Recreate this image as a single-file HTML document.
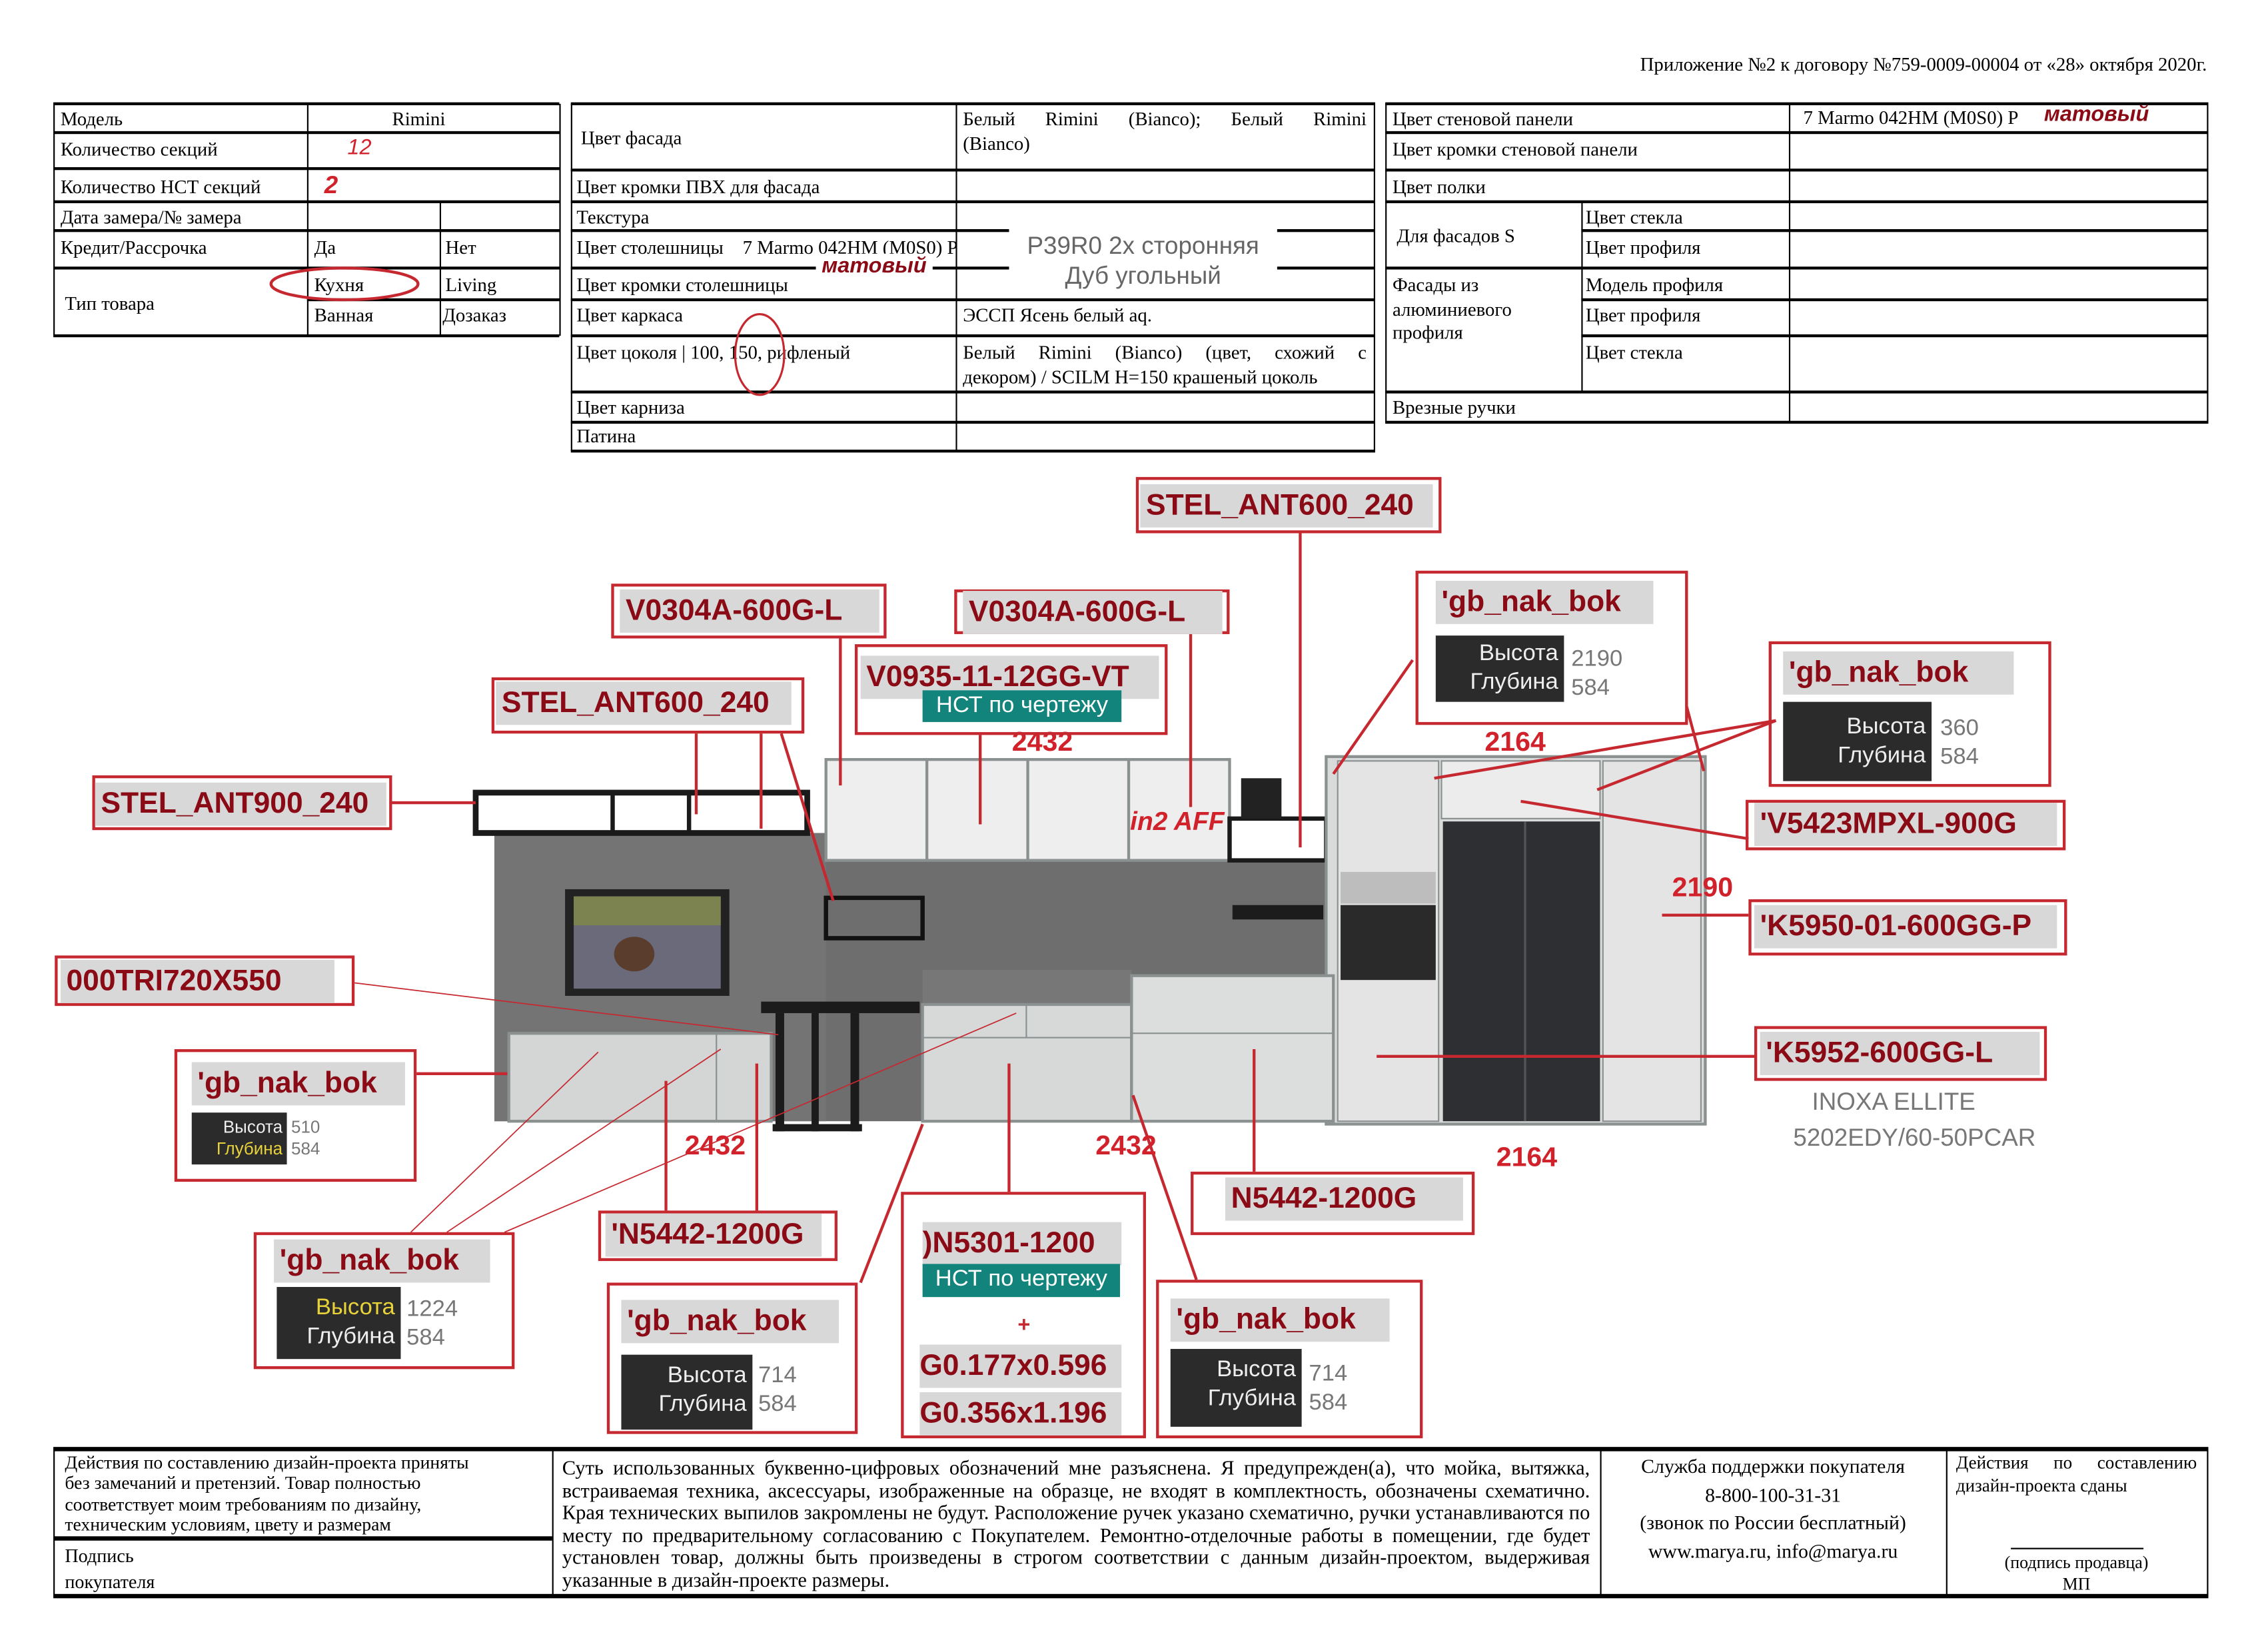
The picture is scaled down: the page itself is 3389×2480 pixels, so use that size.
<!DOCTYPE html>
<html><head><meta charset="utf-8"><style>
*{margin:0;padding:0;box-sizing:border-box}
body{width:3389px;height:2480px;background:#fff;overflow:hidden;position:relative}
#c{position:absolute;left:0;top:0;width:1559px;height:1141px;transform:scale(2.1635);transform-origin:0 0;font-family:"Liberation Serif",serif;color:#000}
.a{position:absolute;white-space:nowrap}
.h{position:absolute;height:2px;background:#000}
.v{position:absolute;width:1px;background:#000}
.t{position:absolute;font-size:13.3px;line-height:15px;white-space:nowrap}
.rb{position:absolute;border:2px solid #c62830}
.lb{position:absolute;background:#d8d8d8;color:#8a0b16;font-family:"Liberation Sans",sans-serif;font-weight:bold;font-size:20.5px;line-height:30px;padding-left:4px;white-space:nowrap}
.dk{position:absolute;background:#2b2b2b;color:#eee;font-family:"Liberation Sans",sans-serif;font-size:16px;line-height:20px;text-align:right;padding:3px 4px}
.vals{position:absolute;font-family:"Liberation Sans",sans-serif;font-size:16px;line-height:20px;color:#777}
.teal{position:absolute;background:#12847c;color:#fff;font-family:"Liberation Sans",sans-serif;font-size:16px;line-height:22px;text-align:center}
.num{position:absolute;color:#d1222b;font-family:"Liberation Sans",sans-serif;font-weight:bold;font-size:19px}
.bt{position:absolute;font-size:12.5px;line-height:15.5px}
</style></head><body><div id="c">

<div class="t" style="right:28px;top:37px">Приложение №2 к договору №759-0009-00004 от «28» октября 2020г.</div>

<div class="h" style="left:37px;width:351px;top:71px"></div>
<div class="h" style="left:37px;width:351px;top:91px"></div>
<div class="h" style="left:37px;width:351px;top:116px"></div>
<div class="h" style="left:37px;width:351px;top:139px"></div>
<div class="h" style="left:37px;width:351px;top:159px"></div>
<div class="h" style="left:37px;width:351px;top:185px"></div>
<div class="h" style="left:213px;width:175px;top:207px"></div>
<div class="h" style="left:37px;width:351px;top:232px"></div>
<div class="v" style="left:37px;top:72px;height:161px"></div>
<div class="v" style="left:213px;top:72px;height:161px"></div>
<div class="v" style="left:305px;top:140px;height:93px"></div>
<div class="v" style="left:388px;top:72px;height:161px"></div>
<div class="t" style="left:42px;top:75px">Модель</div>
<div class="t" style="left:213px;width:155px;text-align:center;top:75px">Rimini</div>
<div class="t" style="left:42px;top:96px">Количество секций</div>
<div class="a" style="left:241px;top:94px;color:#d1222b;font-family:'Liberation Sans',sans-serif;font-style:italic;font-size:15px">12</div>
<div class="t" style="left:42px;top:122px">Количество НСТ секций</div>
<div class="a" style="left:225px;top:119px;color:#d1222b;font-family:'Liberation Sans',sans-serif;font-style:italic;font-weight:bold;font-size:17px">2</div>
<div class="t" style="left:42px;top:143px">Дата замера/№ замера</div>
<div class="t" style="left:42px;top:164px">Кредит/Рассрочка</div>
<div class="t" style="left:218px;top:164px">Да</div>
<div class="t" style="left:309px;top:164px">Нет</div>
<div class="t" style="left:45px;top:203px">Тип товара</div>
<div class="t" style="left:218px;top:190px">Кухня</div>
<div class="t" style="left:309px;top:190px">Living</div>
<div class="t" style="left:218px;top:211px">Ванная</div>
<div class="t" style="left:307px;top:211px">Дозаказ</div>

<div class="h" style="left:396px;width:558px;top:71px"></div>
<div class="h" style="left:396px;width:558px;top:117px"></div>
<div class="h" style="left:396px;width:558px;top:139px"></div>
<div class="h" style="left:396px;width:558px;top:159px"></div>
<div class="h" style="left:396px;width:558px;top:185px"></div>
<div class="h" style="left:396px;width:558px;top:207px"></div>
<div class="h" style="left:396px;width:558px;top:232px"></div>
<div class="h" style="left:396px;width:558px;top:271px"></div>
<div class="h" style="left:396px;width:558px;top:292px"></div>
<div class="h" style="left:396px;width:558px;top:312px"></div>
<div class="v" style="left:396px;top:72px;height:241px"></div>
<div class="v" style="left:663px;top:72px;height:241px"></div>
<div class="v" style="left:953px;top:72px;height:241px"></div>
<div class="t" style="left:403px;top:88px">Цвет фасада</div>
<div class="t" style="left:668px;top:75px;width:280px;text-align:justify;text-align-last:justify">Белый Rimini (Bianco); Белый Rimini</div>
<div class="t" style="left:668px;top:92px">(Bianco)</div>
<div class="t" style="left:400px;top:122px">Цвет кромки ПВХ для фасада</div>
<div class="t" style="left:400px;top:143px">Текстура</div>
<div class="t" style="left:400px;top:164px">Цвет столешницы&nbsp;&nbsp;&nbsp;&nbsp;7 Marmo 042HM (M0S0) P</div>
<div class="t" style="left:400px;top:190px">Цвет кромки столешницы</div>
<div class="t" style="left:400px;top:211px">Цвет каркаса</div>
<div class="t" style="left:668px;top:211px">ЭССП Ясень белый aq.</div>
<div class="t" style="left:400px;top:237px">Цвет цоколя | 100, 150, рифленый</div>
<div class="t" style="left:668px;top:237px;width:280px;text-align:justify;text-align-last:justify">Белый Rimini (Bianco) (цвет, схожий с</div>
<div class="t" style="left:668px;top:254px">декором) / SCILM H=150 крашеный цоколь</div>
<div class="t" style="left:400px;top:275px">Цвет карниза</div>
<div class="t" style="left:400px;top:295px">Патина</div>
<div class="a" style="left:700px;top:158px;width:186px;height:48px;background:#fff"></div>
<div class="a" style="left:700px;top:160px;width:186px;text-align:center;font-family:'Liberation Sans',sans-serif;font-size:17px;line-height:21px;color:#666">P39R0 2x сторонняя<br>Дуб угольный</div>
<div class="a" style="left:566px;top:176px;background:#fff;padding:0 4px;color:#8a0b16;font-family:'Liberation Sans',sans-serif;font-style:italic;font-weight:bold;font-size:15px;line-height:17px">матовый</div>

<div class="h" style="left:961px;width:571px;top:71px"></div>
<div class="h" style="left:961px;width:571px;top:91px"></div>
<div class="h" style="left:961px;width:571px;top:117px"></div>
<div class="h" style="left:961px;width:571px;top:139px"></div>
<div class="h" style="left:1097px;width:435px;top:159px"></div>
<div class="h" style="left:961px;width:571px;top:185px"></div>
<div class="h" style="left:1097px;width:435px;top:207px"></div>
<div class="h" style="left:1097px;width:435px;top:232px"></div>
<div class="h" style="left:961px;width:571px;top:271px"></div>
<div class="h" style="left:961px;width:571px;top:292px"></div>
<div class="v" style="left:961px;top:72px;height:221px"></div>
<div class="v" style="left:1097px;top:140px;height:132px"></div>
<div class="v" style="left:1241px;top:72px;height:221px"></div>
<div class="v" style="left:1531px;top:72px;height:221px"></div>
<div class="t" style="left:966px;top:75px">Цвет стеновой панели</div>
<div class="t" style="left:1251px;top:74px">7 Marmo 042HM (M0S0) P</div>
<div class="a" style="left:1418px;top:71px;color:#8a0b16;font-family:'Liberation Sans',sans-serif;font-style:italic;font-weight:bold;font-size:15px">матовый</div>
<div class="t" style="left:966px;top:96px">Цвет кромки стеновой панели</div>
<div class="t" style="left:966px;top:122px">Цвет полки</div>
<div class="t" style="left:969px;top:156px">Для фасадов S</div>
<div class="t" style="left:1100px;top:143px">Цвет стекла</div>
<div class="t" style="left:1100px;top:164px">Цвет профиля</div>
<div class="t" style="left:966px;top:190px;line-height:16.5px">Фасады из<br>алюминиевого<br>профиля</div>
<div class="t" style="left:1100px;top:190px">Модель профиля</div>
<div class="t" style="left:1100px;top:211px">Цвет профиля</div>
<div class="t" style="left:1100px;top:237px">Цвет стекла</div>
<div class="t" style="left:966px;top:275px">Врезные ручки</div>

<svg class="a" style="left:0;top:0" width="1559" height="1141" viewBox="0 0 1559 1141">
<ellipse cx="239" cy="197" rx="51" ry="11" fill="none" stroke="#c62830" stroke-width="2"/>
<ellipse cx="527" cy="246" rx="17" ry="28" fill="none" stroke="#c62830" stroke-width="1.5"/>
<rect x="343" y="578" width="582" height="200" fill="#6e6e6e"/>
<rect x="343" y="578" width="230" height="200" fill="#747474"/>
<rect x="330" y="550" width="230" height="28" fill="none" stroke="#1a1a1a" stroke-width="4"/>
<line x1="425" y1="550" x2="425" y2="578" stroke="#1a1a1a" stroke-width="3"/>
<line x1="478" y1="550" x2="478" y2="578" stroke="#1a1a1a" stroke-width="3"/>
<rect x="573" y="527" width="280" height="70" fill="#eeeeee" stroke="#8a9190" stroke-width="2"/>
<line x1="643" y1="527" x2="643" y2="597" stroke="#8a9190" stroke-width="2"/>
<line x1="713" y1="527" x2="713" y2="597" stroke="#8a9190" stroke-width="2"/>
<line x1="783" y1="527" x2="783" y2="597" stroke="#8a9190" stroke-width="2"/>
<rect x="853" y="568" width="67" height="29" fill="#fff" stroke="#1a1a1a" stroke-width="3"/>
<rect x="861" y="540" width="28" height="28" fill="#222"/>
<rect x="573" y="623" width="67" height="28" fill="none" stroke="#111" stroke-width="3"/>
<rect x="855" y="628" width="63" height="10" fill="#1c1c1c"/>
<rect x="392" y="617" width="114" height="74" fill="#222"/>
<rect x="398" y="622" width="102" height="64" fill="#6a6a7a"/>
<rect x="398" y="622" width="102" height="20" fill="#7d8350"/>
<ellipse cx="440" cy="662" rx="14" ry="12" fill="#5a3d2c"/>
<rect x="920" y="525" width="263" height="255" fill="#d9dbdb" stroke="#8a9190" stroke-width="2"/>
<rect x="928" y="528" width="70" height="250" fill="#e4e4e4" stroke="#8a9190"/>
<rect x="1000" y="528" width="110" height="40" fill="#ececec" stroke="#8a9190"/>
<rect x="1112" y="528" width="68" height="250" fill="#e4e4e4" stroke="#8a9190"/>
<rect x="930" y="628" width="66" height="52" fill="#2a2a2a"/>
<rect x="930" y="605" width="66" height="22" fill="#bdbdbd"/>
<rect x="1001" y="570" width="109" height="208" fill="#2d2f33"/>
<line x1="1058" y1="570" x2="1058" y2="778" stroke="#555" stroke-width="1.5"/>
<rect x="353" y="717" width="182" height="61" fill="#d4d6d6" stroke="#8a9190" stroke-width="2"/>
<line x1="497" y1="717" x2="497" y2="778" stroke="#8a9190"/>
<rect x="640" y="673" width="145" height="24" fill="#777"/>
<rect x="640" y="697" width="145" height="81" fill="#d7d9d9" stroke="#8a9190" stroke-width="2"/>
<line x1="640" y1="720" x2="785" y2="720" stroke="#8a9190"/>
<line x1="712" y1="697" x2="712" y2="720" stroke="#8a9190"/>
<rect x="785" y="677" width="140" height="101" fill="#dcdede" stroke="#8a9190" stroke-width="2"/>
<line x1="785" y1="717" x2="925" y2="717" stroke="#8a9190"/>
<rect x="528" y="695" width="110" height="8" fill="#1b1b1b"/>
<rect x="538" y="703" width="6" height="82" fill="#1b1b1b"/>
<rect x="563" y="703" width="5" height="82" fill="#1b1b1b"/>
<rect x="590" y="703" width="6" height="82" fill="#1b1b1b"/>
<rect x="536" y="780" width="62" height="5" fill="#1b1b1b"/>
<g stroke="#c62830" stroke-width="2" fill="none">
<line x1="902" y1="370" x2="902" y2="588"/>
<line x1="583" y1="443" x2="583" y2="545"/>
<line x1="826" y1="440" x2="826" y2="560"/>
<line x1="680" y1="510" x2="680" y2="572"/>
<line x1="483" y1="509" x2="483" y2="565"/>
<line x1="528" y1="509" x2="528" y2="575"/>
<line x1="542" y1="509" x2="578" y2="625"/>
<line x1="272" y1="557" x2="330" y2="557"/>
<line x1="980" y1="458" x2="925" y2="537"/>
<line x1="1170" y1="490" x2="1182" y2="535"/>
<line x1="1232" y1="500" x2="995" y2="540"/>
<line x1="1232" y1="500" x2="1108" y2="548"/>
<line x1="1213" y1="582" x2="1055" y2="556"/>
<line x1="1153" y1="635" x2="1213" y2="635"/>
<line x1="955" y1="733" x2="1217" y2="733"/>
<line x1="289" y1="745" x2="352" y2="745"/>
<line x1="462" y1="840" x2="462" y2="750"/>
<line x1="525" y1="840" x2="525" y2="738"/>
<line x1="597" y1="890" x2="640" y2="780"/>
<line x1="700" y1="827" x2="700" y2="738"/>
<line x1="830" y1="888" x2="786" y2="760"/>
<line x1="870" y1="813" x2="870" y2="728"/>
</g>
<g stroke="#c62830" stroke-width="0.8" fill="none">
<line x1="246" y1="682" x2="540" y2="718"/>
<line x1="285" y1="855" x2="415" y2="730"/>
<line x1="310" y1="855" x2="500" y2="728"/>
<line x1="350" y1="855" x2="705" y2="703"/>
</g>
</svg>

<div class="num" style="left:702px;top:505px">2432</div>
<div class="num" style="left:1030px;top:505px">2164</div>
<div class="num" style="left:1160px;top:606px">2190</div>
<div class="num" style="left:475px;top:785px">2432</div>
<div class="num" style="left:760px;top:785px">2432</div>
<div class="num" style="left:1038px;top:793px">2164</div>
<div class="num" style="left:784px;top:560px;font-style:italic;font-size:18px">in2 AFF</div>

<div class="rb" style="left:788px;top:331px;width:212px;height:39px"></div>
<div class="lb" style="left:791px;top:336px;width:203px">STEL_ANT600_240</div>
<div class="rb" style="left:424px;top:405px;width:191px;height:38px"></div>
<div class="lb" style="left:430px;top:409px;width:180px">V0304A-600G-L</div>
<div class="rb" style="left:662px;top:409px;width:191px;height:31px"></div>
<div class="lb" style="left:668px;top:410px;width:180px">V0304A-600G-L</div>
<div class="rb" style="left:593px;top:447px;width:217px;height:63px"></div>
<div class="lb" style="left:597px;top:455px;width:207px">V0935-11-12GG-VT</div>
<div class="teal" style="left:640px;top:479px;width:138px">НСТ по чертежу</div>
<div class="rb" style="left:341px;top:470px;width:217px;height:39px"></div>
<div class="lb" style="left:344px;top:473px;width:205px">STEL_ANT600_240</div>
<div class="rb" style="left:64px;top:538px;width:208px;height:38px"></div>
<div class="lb" style="left:66px;top:543px;width:202px">STEL_ANT900_240</div>

<div class="rb" style="left:982px;top:396px;width:189px;height:107px"></div>
<div class="lb" style="left:996px;top:403px;width:151px">'gb_nak_bok</div>
<div class="dk" style="left:996px;top:441px;width:89px;height:46px">Высота<br>Глубина</div>
<div class="vals" style="left:1090px;top:448px">2190<br>584</div>

<div class="rb" style="left:1227px;top:445px;width:196px;height:101px"></div>
<div class="lb" style="left:1237px;top:452px;width:160px">'gb_nak_bok</div>
<div class="dk" style="left:1237px;top:487px;width:103px;height:55px;padding-top:8px">Высота<br>Глубина</div>
<div class="vals" style="left:1346px;top:496px">360<br>584</div>

<div class="rb" style="left:1211px;top:555px;width:222px;height:35px"></div>
<div class="lb" style="left:1217px;top:557px;width:210px">'V5423MPXL-900G</div>
<div class="rb" style="left:1213px;top:624px;width:221px;height:39px"></div>
<div class="lb" style="left:1217px;top:628px;width:210px">'K5950-01-600GG-P</div>
<div class="rb" style="left:1217px;top:712px;width:203px;height:38px"></div>
<div class="lb" style="left:1221px;top:716px;width:194px">'K5952-600GG-L</div>
<div class="a" style="left:1257px;top:755px;font-family:'Liberation Sans',sans-serif;font-size:17px;color:#777">INOXA ELLITE</div>
<div class="a" style="left:1244px;top:780px;font-family:'Liberation Sans',sans-serif;font-size:17px;color:#777">5202EDY/60-50PCAR</div>

<div class="rb" style="left:38px;top:663px;width:208px;height:35px"></div>
<div class="lb" style="left:42px;top:666px;width:190px">000TRI720X550</div>

<div class="rb" style="left:121px;top:728px;width:168px;height:92px"></div>
<div class="lb" style="left:133px;top:737px;width:148px">'gb_nak_bok</div>
<div class="dk" style="left:133px;top:772px;width:66px;height:36px;font-size:12px;line-height:15px;padding:3px"><span>Высота</span><br><span style="color:#e8d23a">Глубина</span></div>
<div class="vals" style="left:202px;top:775px;font-size:12px;line-height:15px">510<br>584</div>

<div class="rb" style="left:176px;top:855px;width:181px;height:95px"></div>
<div class="lb" style="left:190px;top:860px;width:150px">'gb_nak_bok</div>
<div class="dk" style="left:192px;top:893px;width:86px;height:50px;padding-top:5px"><span style="color:#e8d23a">Высота</span><br>Глубина</div>
<div class="vals" style="left:282px;top:899px">1224<br>584</div>

<div class="rb" style="left:415px;top:840px;width:166px;height:35px"></div>
<div class="lb" style="left:420px;top:842px;width:150px">'N5442-1200G</div>

<div class="rb" style="left:421px;top:890px;width:174px;height:105px"></div>
<div class="lb" style="left:431px;top:902px;width:151px">'gb_nak_bok</div>
<div class="dk" style="left:431px;top:940px;width:91px;height:52px;padding-top:5px">Высота<br>Глубина</div>
<div class="vals" style="left:526px;top:945px">714<br>584</div>

<div class="rb" style="left:625px;top:827px;width:170px;height:171px"></div>
<div class="lb" style="left:640px;top:848px;width:138px;padding-left:0">)N5301-1200</div>
<div class="teal" style="left:640px;top:877px;width:137px;height:23px">НСТ по чертежу</div>
<div class="a" style="left:706px;top:911px;color:#c62830;font-family:'Liberation Sans',sans-serif;font-weight:bold;font-size:15px">+</div>
<div class="lb" style="left:638px;top:933px;width:140px;padding-left:0">G0.177x0.596</div>
<div class="lb" style="left:638px;top:966px;width:140px;padding-left:0">G0.356x1.196</div>

<div class="rb" style="left:802px;top:888px;width:185px;height:110px"></div>
<div class="lb" style="left:812px;top:901px;width:152px">'gb_nak_bok</div>
<div class="dk" style="left:812px;top:936px;width:91px;height:54px;padding-top:5px">Высота<br>Глубина</div>
<div class="vals" style="left:908px;top:944px">714<br>584</div>

<div class="rb" style="left:826px;top:813px;width:197px;height:44px"></div>
<div class="lb" style="left:850px;top:817px;width:165px">N5442-1200G</div>

<div class="h" style="left:37px;width:1495px;top:1004px;height:3px"></div>
<div class="h" style="left:37px;width:1495px;top:1106px;height:3px"></div>
<div class="h" style="left:37px;width:346px;top:1066px;height:3px"></div>
<div class="v" style="left:37px;top:1005px;height:103px"></div>
<div class="v" style="left:383px;top:1005px;height:103px"></div>
<div class="v" style="left:1110px;top:1005px;height:103px"></div>
<div class="v" style="left:1350px;top:1005px;height:103px"></div>
<div class="v" style="left:1531px;top:1005px;height:103px"></div>
<div class="bt" style="left:45px;top:1008px;font-size:12.8px;line-height:14.3px">Действия по составлению дизайн-проекта приняты<br>без замечаний и претензий. Товар полностью<br>соответствует моим требованиям по дизайну,<br>техническим условиям, цвету и размерам</div>
<div class="bt" style="left:45px;top:1071px;font-size:13px;line-height:18px">Подпись<br>покупателя</div>
<div class="bt" style="left:390px;top:1012px;width:713px;text-align:justify;font-size:14.1px;line-height:15.6px">Суть использованных буквенно-цифровых обозначений мне разъяснена. Я предупрежден(а), что мойка, вытяжка, встраиваемая техника, аксессуары, изображенные на образце, не входят в комплектность, обозначены схематично. Края технических выпилов закромлены не будут. Расположение ручек указано схематично, ручки устанавливаются по месту по предварительному согласованию с Покупателем. Ремонтно-отделочные работы в помещении, где будет установлен товар, должны быть произведены в строгом соответствии с данным дизайн-проектом, выдерживая указанные в дизайн-проекте размеры.</div>
<div class="bt" style="left:1110px;width:240px;top:1008px;text-align:center;font-size:13.8px;line-height:19.5px">Служба поддержки покупателя<br>8-800-100-31-31<br>(звонок по России бесплатный)<br>www.marya.ru, info@marya.ru</div>
<div class="bt" style="left:1357px;top:1008px;width:167px;text-align:justify;text-align-last:left">Действия по составлению дизайн-проекта сданы</div>
<div class="a" style="left:1395px;top:1074px;width:92px;height:1px;background:#000"></div>
<div class="bt" style="left:1350px;width:181px;top:1077px;text-align:center;font-size:12px;line-height:15px">(подпись продавца)<br>МП</div>

</div></body></html>
